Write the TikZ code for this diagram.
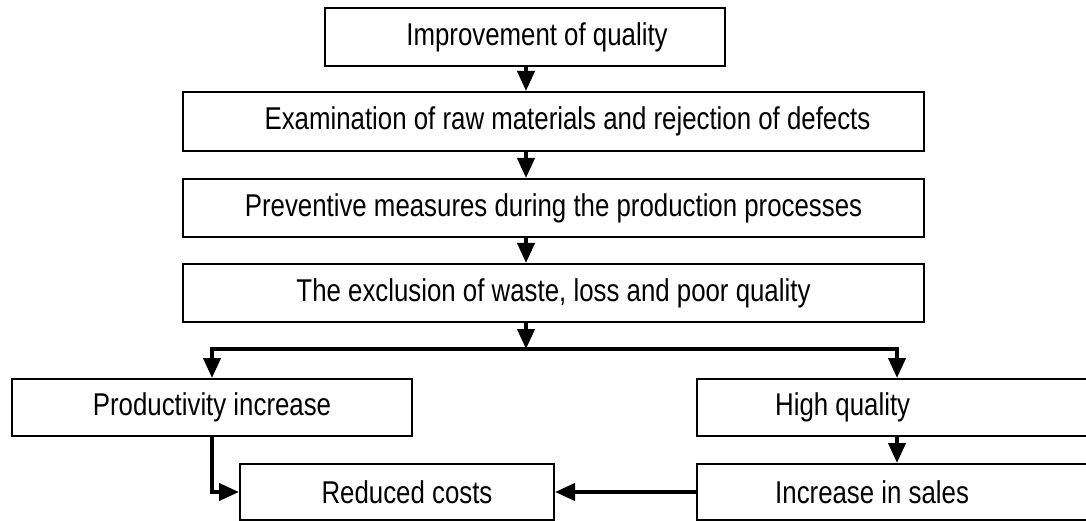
\documentclass[tikz,border=0pt]{standalone}
\usepackage{fontspec}
\setmainfont[FakeStretch=0.82]{Liberation Sans}
\usetikzlibrary{arrows.meta}
\begin{document}
\begin{tikzpicture}[x=1pt,y=-1pt,
  box/.style={draw, line width=2pt, inner sep=0pt, font=\fontsize{31.5}{36}\selectfont},
  lbl/.style={inner sep=0pt, font=\fontsize{31.5}{36}\selectfont},
  arr/.style={line width=4pt, -{Triangle[width=17pt,length=20pt]}}]
\clip (0,0) rectangle (1086,521);
\node[box, minimum width=400pt, minimum height=58pt] (b1) at (525,37) {\hspace{24pt}Improvement of quality};
\node[box, minimum width=741pt, minimum height=59pt] (b2) at (553.5,121.5) {\hspace{28pt}Examination of raw materials and rejection of defects};
\node[box, minimum width=741pt, minimum height=58pt] (b3) at (553.5,208) {Preventive measures during the production processes};
\node[box, minimum width=741pt, minimum height=58pt] (b4) at (553.5,293) {The exclusion of waste, loss and poor quality};
\node[box, minimum width=400pt, minimum height=57pt] (b5) at (212,407.5) {Productivity increase};
\node[box, minimum width=403pt, minimum height=57pt] (b6) at (898.5,407.5) {};
\node[lbl, anchor=west] (t6) at ([xshift=79pt]b6.west) {High quality};
\node[box, minimum width=403pt, minimum height=56pt] (b7) at (898.5,492) {};
\node[lbl, anchor=west] (t7) at ([xshift=79pt]b7.west) {Increase in sales};
\node[box, minimum width=314pt, minimum height=56pt] (b8) at (397,492) {\hspace{20pt}Reduced costs};
\coordinate (j) at (526,349);
\coordinate (hq) at (897,0);
\draw[arr] (b1.south -| j) -- (b2.north -| j);
\draw[arr] (b2.south -| j) -- (b3.north -| j);
\draw[arr] (b3.south -| j) -- (b4.north -| j);
\draw[arr] (b4.south -| j) -- (j);
\draw[arr] (j) -| (b5.north);
\draw[arr] (j) -| (b6.north -| hq);
\draw[arr] (b6.south -| hq) -- (b7.north -| hq);
\draw[arr] (b5.south) |- (b8.west);
\draw[arr] (b7.west) -- (b8.east);
\end{tikzpicture}
\end{document}
